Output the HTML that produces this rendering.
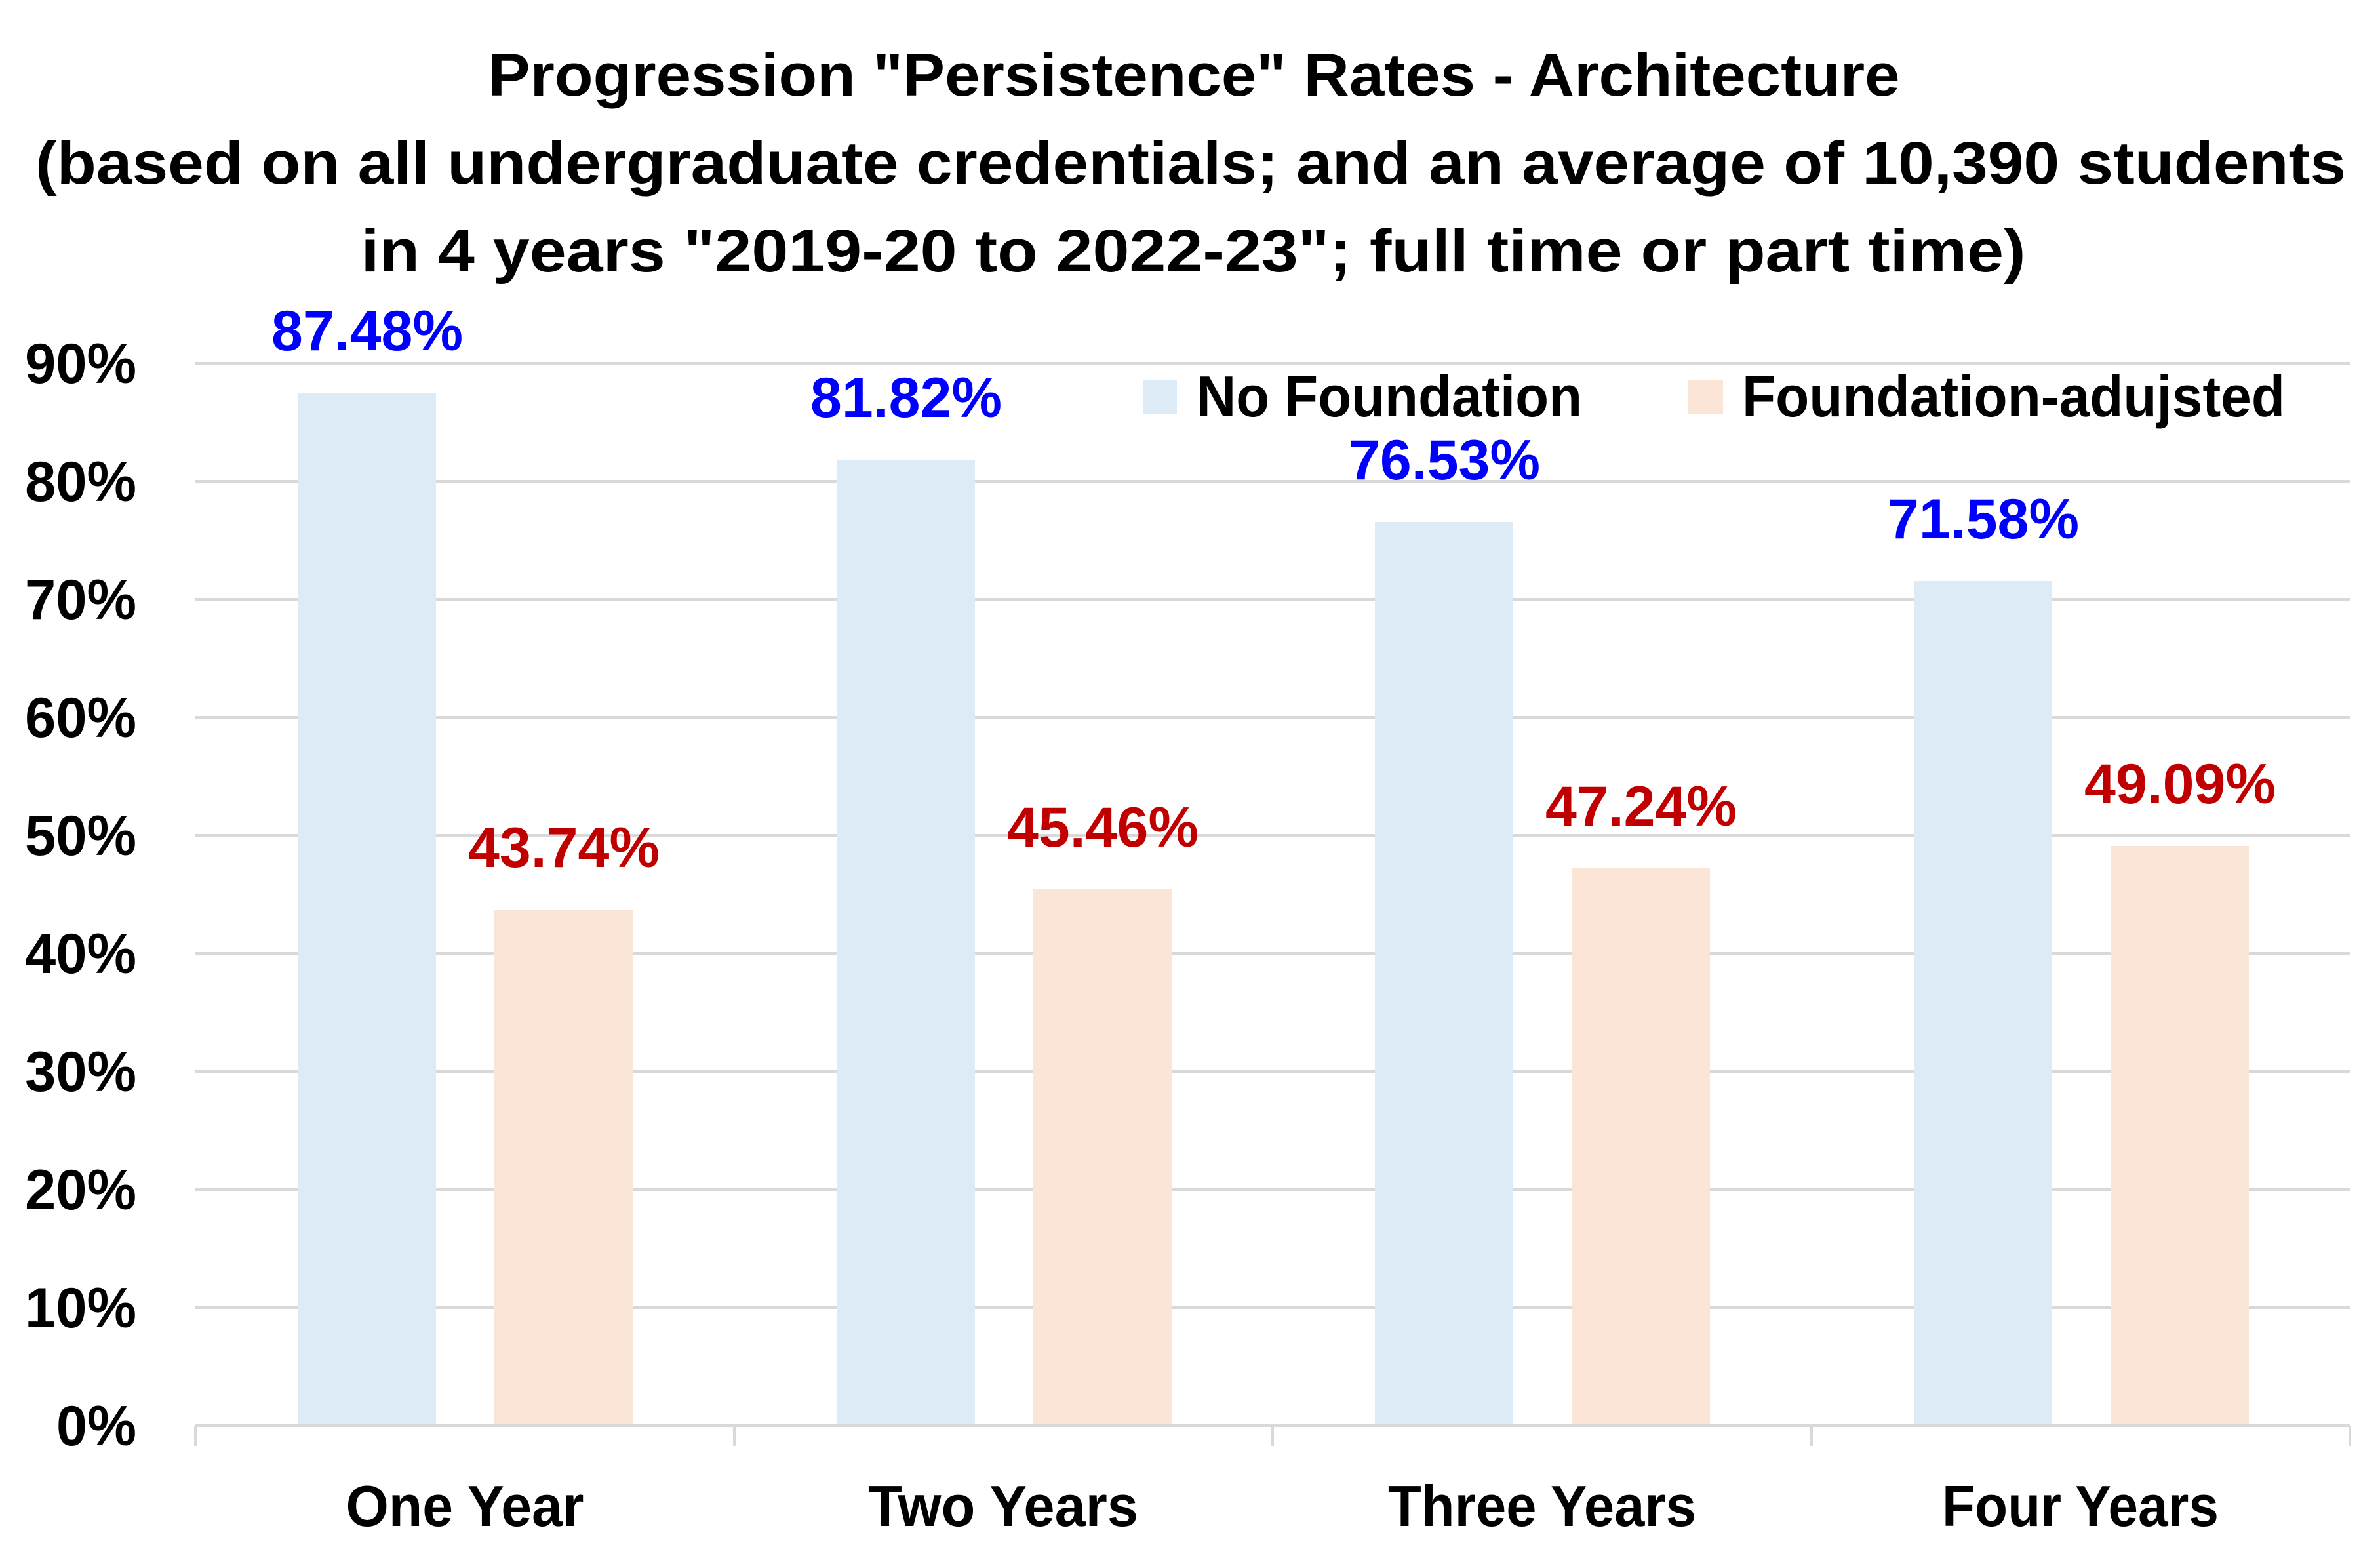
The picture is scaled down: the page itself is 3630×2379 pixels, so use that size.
<!DOCTYPE html>
<html><head><meta charset="utf-8"><style>html,body{margin:0;padding:0;background:#fff;}svg{display:block;}</style></head>
<body>
<svg width="3630" height="2379" viewBox="0 0 3630 2379" xmlns="http://www.w3.org/2000/svg" font-family="'Liberation Sans', sans-serif" font-weight="bold">
<rect width="3630" height="2379" fill="#fff"/>
<g fill="#000" font-size="92" text-anchor="middle">
<text x="1821" y="146" textLength="2153" lengthAdjust="spacingAndGlyphs">Progression "Persistence" Rates - Architecture</text>
<text x="1816" y="280" textLength="3524" lengthAdjust="spacingAndGlyphs">(based on all undergraduate credentials; and an average of 10,390 students</text>
<text x="1820" y="414" textLength="2539" lengthAdjust="spacingAndGlyphs">in 4 years "2019-20 to 2022-23"; full time or part time)</text>
</g>
<g stroke="#d9d9d9" stroke-width="4">
<line x1="298" x2="3584" y1="554" y2="554"/>
<line x1="298" x2="3584" y1="734" y2="734"/>
<line x1="298" x2="3584" y1="914" y2="914"/>
<line x1="298" x2="3584" y1="1094" y2="1094"/>
<line x1="298" x2="3584" y1="1274" y2="1274"/>
<line x1="298" x2="3584" y1="1454" y2="1454"/>
<line x1="298" x2="3584" y1="1634" y2="1634"/>
<line x1="298" x2="3584" y1="1814" y2="1814"/>
<line x1="298" x2="3584" y1="1994" y2="1994"/>
</g>
<g font-size="86" text-anchor="end" fill="#000">
<text x="208" y="584" textLength="170" lengthAdjust="spacingAndGlyphs">90%</text>
<text x="208" y="764" textLength="170" lengthAdjust="spacingAndGlyphs">80%</text>
<text x="208" y="944" textLength="170" lengthAdjust="spacingAndGlyphs">70%</text>
<text x="208" y="1124" textLength="170" lengthAdjust="spacingAndGlyphs">60%</text>
<text x="208" y="1304" textLength="170" lengthAdjust="spacingAndGlyphs">50%</text>
<text x="208" y="1484" textLength="170" lengthAdjust="spacingAndGlyphs">40%</text>
<text x="208" y="1664" textLength="170" lengthAdjust="spacingAndGlyphs">30%</text>
<text x="208" y="1844" textLength="170" lengthAdjust="spacingAndGlyphs">20%</text>
<text x="208" y="2024" textLength="170" lengthAdjust="spacingAndGlyphs">10%</text>
<text x="208" y="2204" textLength="122" lengthAdjust="spacingAndGlyphs">0%</text>
</g>
<!-- bars: group width 821.5; blue left offset 156, width 211; orange offset 456 -->
<g>
<rect x="454" y="599" width="211" height="1575" fill="#DDEBF7"/>
<rect x="754" y="1387" width="211" height="787" fill="#FBE5D6"/>
<rect x="1276" y="701" width="211" height="1473" fill="#DDEBF7"/>
<rect x="1576" y="1356" width="211" height="818" fill="#FBE5D6"/>
<rect x="2097" y="796" width="211" height="1378" fill="#DDEBF7"/>
<rect x="2397" y="1324" width="211" height="850" fill="#FBE5D6"/>
<rect x="2919" y="886" width="211" height="1288" fill="#DDEBF7"/>
<rect x="3219" y="1290" width="211" height="884" fill="#FBE5D6"/>
</g>
<g stroke="#d9d9d9" stroke-width="4">
<line x1="298" x2="3584" y1="2174" y2="2174"/>
<line x1="298" x2="298" y1="2174" y2="2205"/>
<line x1="1120" x2="1120" y1="2174" y2="2205"/>
<line x1="1941" x2="1941" y1="2174" y2="2205"/>
<line x1="2763" x2="2763" y1="2174" y2="2205"/>
<line x1="3584" x2="3584" y1="2174" y2="2205"/>
</g>
<g font-size="86" text-anchor="middle">
<g fill="#0000FF">
<text x="560" y="534" textLength="292" lengthAdjust="spacingAndGlyphs">87.48%</text>
<text x="1382" y="636" textLength="292" lengthAdjust="spacingAndGlyphs">81.82%</text>
<text x="2203" y="731" textLength="292" lengthAdjust="spacingAndGlyphs">76.53%</text>
<text x="3025" y="821" textLength="292" lengthAdjust="spacingAndGlyphs">71.58%</text>
</g>
<g fill="#C00000">
<text x="860" y="1322" textLength="292" lengthAdjust="spacingAndGlyphs">43.74%</text>
<text x="1682" y="1291" textLength="292" lengthAdjust="spacingAndGlyphs">45.46%</text>
<text x="2503" y="1259" textLength="292" lengthAdjust="spacingAndGlyphs">47.24%</text>
<text x="3325" y="1225" textLength="292" lengthAdjust="spacingAndGlyphs">49.09%</text>
</g>
</g>
<rect x="1744" y="579" width="51" height="52" fill="#DDEBF7"/>
<rect x="2575" y="579" width="53" height="52" fill="#FBE5D6"/>
<g font-size="88" fill="#000">
<text x="1825" y="635" textLength="588" lengthAdjust="spacingAndGlyphs">No Foundation</text>
<text x="2657" y="635" textLength="828" lengthAdjust="spacingAndGlyphs">Foundation-adujsted</text>
</g>
<g font-size="88" fill="#000" text-anchor="middle">
<text x="709" y="2327" textLength="363" lengthAdjust="spacingAndGlyphs">One Year</text>
<text x="1530" y="2327" textLength="412" lengthAdjust="spacingAndGlyphs">Two Years</text>
<text x="2352" y="2327" textLength="470" lengthAdjust="spacingAndGlyphs">Three Years</text>
<text x="3173" y="2327" textLength="422" lengthAdjust="spacingAndGlyphs">Four Years</text>
</g>
</svg>
</body></html>
